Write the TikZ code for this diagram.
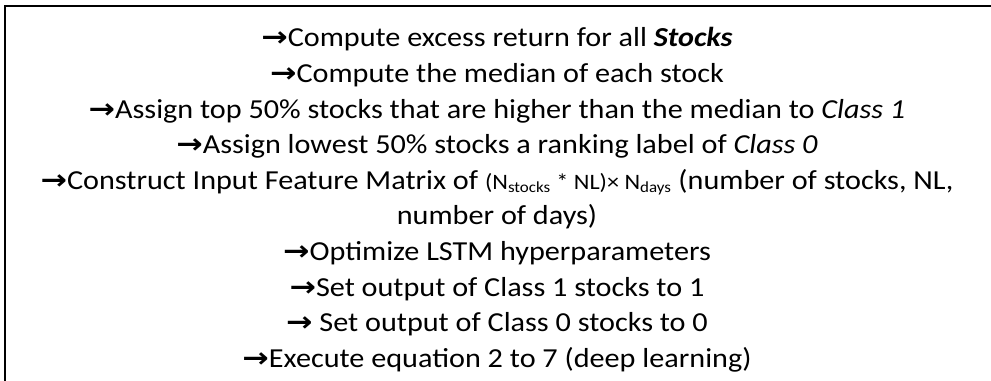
\documentclass[tikz,border=0pt]{standalone}
\usepackage{fontspec}
\setmainfont{Carlito}[FakeStretch=1.1]
\newfontfamily\arrowfont{DejaVu Sans}[FakeStretch=1.15]
\usetikzlibrary{positioning}

\newcommand{\rarr}{{\arrowfont\bfseries →}}
\newcommand{\matdim}{{\fontsize{16.5pt}{18pt}\selectfont (N\textsubscript{stocks} * NL)× N\textsubscript{days}}}

\begin{document}
\begin{tikzpicture}[x=0.75pt, y=-0.75pt,
  stepline/.style={anchor=base, inner sep=0pt, font=\fontsize{20.6pt}{24pt}\selectfont},
  frame/.style={draw, line width=1.5pt}
]
  \useasboundingbox (0,0) rectangle (991,381);
  % open frame: only the top and left edges show
  \coordinate (corner) at (5,6);
  \coordinate (topend) at (995,6);
  \coordinate (leftend) at (5,385);
  \draw[frame] (leftend) -- (corner) -- (topend);

  \node[stepline] (l1)  at (497,46.8)  {\rarr Compute excess return for all \textbf{\textit{Stocks}}};
  \node[stepline] (l2)  at (497,82.4)  {\rarr Compute the median of each stock};
  \node[stepline] (l3)  at (497,118)   {\rarr Assign top 50\% stocks that are higher than the median to \textit{Class 1}};
  \node[stepline] (l4)  at (497,153.6) {\rarr Assign lowest 50\% stocks a ranking label of \textit{Class 0}};
  \node[stepline] (l5)  at (497,189.2) {\rarr Construct Input Feature Matrix of \matdim{} (number of stocks, NL,};
  \node[stepline] (l6)  at (497,224.8) {number of days)};
  \node[stepline] (l7)  at (497,260.4) {\rarr Optimize LSTM hyperparameters};
  \node[stepline] (l8)  at (497,296)   {\rarr Set output of Class 1 stocks to 1};
  \node[stepline] (l9)  at (497,331.6) {\rarr{} Set output of Class 0 stocks to 0};
  \node[stepline] (l10) at (497,367.2) {\rarr Execute equation 2 to 7 (deep learning)};
\end{tikzpicture}
\end{document}
